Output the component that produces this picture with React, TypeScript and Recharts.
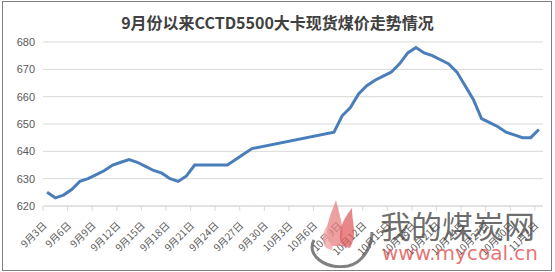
import React from 'react';
import { LineChart, Line, XAxis, YAxis, CartesianGrid } from 'recharts';

const dates = [
  '9月3日', '9月4日', '9月5日', '9月6日', '9月7日', '9月8日', '9月9日', '9月10日', '9月11日', '9月12日',
  '9月13日', '9月14日', '9月15日', '9月16日', '9月17日', '9月18日', '9月19日', '9月20日', '9月21日', '9月22日',
  '9月23日', '9月24日', '9月25日', '9月26日', '9月27日', '9月28日', '9月29日', '9月30日',
  '10月1日', '10月2日', '10月3日', '10月4日', '10月5日', '10月6日', '10月7日', '10月8日', '10月9日', '10月10日',
  '10月11日', '10月12日', '10月13日', '10月14日', '10月15日', '10月16日', '10月17日', '10月18日', '10月19日', '10月20日',
  '10月21日', '10月22日', '10月23日', '10月24日', '10月25日', '10月26日', '10月27日', '10月28日', '10月29日', '10月30日',
  '10月31日', '11月1日', '11月2日',
];

// 5500大卡现货价格（元/吨），国庆假期无报价
const prices: (number | null)[] = [
  625, 623, 624, 626, 629, 630, 631.5, 633, 635, 636,
  637, 636, 634.5, 633, 632, 630, 629, 631, 635, 635,
  635, 635, 635, 637, 639, 641, null, null,
  null, null, null, null, null, null, null, 647, 653, 656,
  661, 664, 666, 667.5, 669, 672, 676, 678, 676, 675,
  673.5, 672, 669, 664, 659, 652, 650.5, 649, 647, 646,
  645, 645, 648,
];

const yTicks = [620, 625, 630, 635, 640, 645, 650, 655, 660, 665, 670, 675, 680];

const data = dates.map((d, i) => ({ date: d, price: prices[i] }));

const W = 555;
const H = 272;
const PLOT_LEFT = 43;
const PLOT_RIGHT = 12;
const HALF_BAND = (W - PLOT_LEFT - PLOT_RIGHT) / dates.length / 2;

const DateTick = ({ x, y, payload }: any) => (
  <g>
    <line x1={x - HALF_BAND} y1={y} x2={x - HALF_BAND} y2={y + 5} stroke="#d9d9d9" />
    <text
      x={x - 3}
      y={y + 17}
      transform={`rotate(-45 ${x - 3} ${y + 17})`}
      textAnchor="end"
      dominantBaseline="central"
      fontSize={10}
      fill="#595959"
      fontFamily="'Noto Sans CJK SC', sans-serif"
    >
      {payload.value}
    </text>
  </g>
);

const Watermark = () => (
  <div style={{ position: 'absolute', left: 300, top: 196, width: 250, height: 72, pointerEvents: 'none' }}>
    <svg width={80} height={72} style={{ position: 'absolute', left: 0, top: 0 }}>
      <path d="M14 44 C 6 58, 24 74, 48 70 C 62 67, 72 52, 72 36" fill="none" stroke="#555" strokeWidth={3} opacity={0.75} />
      <path d="M32 50 C 22 36, 30 20, 36 4 C 40 22, 46 34, 40 50 Z" fill="#e88080" opacity={0.75} />
      <path d="M42 50 C 36 36, 44 22, 52 12 C 52 28, 58 38, 50 52 Z" fill="#e05f5f" opacity={0.75} />
      <path d="M26 52 C 20 44, 24 34, 28 28 C 30 38, 34 44, 32 54 Z" fill="#f0a0a0" opacity={0.75} />
    </svg>
    <div
      style={{
        position: 'absolute', left: 80, top: 12, fontSize: 31, lineHeight: '34px',
        color: 'rgba(70,70,70,0.8)', fontFamily: "'Noto Sans CJK SC', sans-serif", whiteSpace: 'nowrap',
      }}
    >
      我的煤炭网
    </div>
    <div
      style={{
        position: 'absolute', left: 82, top: 46, fontSize: 20, lineHeight: '22px',
        color: 'rgba(220,70,70,0.75)', fontFamily: "'DejaVu Sans', sans-serif", whiteSpace: 'nowrap',
      }}
    >
      www.mycoal.cn
    </div>
  </div>
);

export default function App() {
  return (
    <div style={{ position: 'relative', width: W, height: H, background: '#fff' }}>
      <style>{'body{margin:0}'}</style>
      <div
        style={{
          position: 'absolute', left: 2, top: 1, width: 550, height: 270,
          border: '1px solid #7f7f7f', boxSizing: 'border-box',
        }}
      />
      <div
        style={{
          position: 'absolute', left: 0, top: 11, width: W, textAlign: 'center',
          fontSize: 16, lineHeight: '22px', color: '#404040',
          fontFamily: "'Noto Sans CJK SC', serif", fontWeight: 700,
        }}
      >
        9月份以来CCTD5500大卡现货煤价走势情况
      </div>
      <div style={{ position: 'absolute', left: 0, top: 0 }}>
        <LineChart width={W} height={H} data={data} margin={{ top: 42, right: PLOT_RIGHT, bottom: 0, left: 0 }}>
          <CartesianGrid vertical={false} stroke="#d9d9d9" />
          <XAxis
            dataKey="date"
            interval={2}
            height={66}
            padding={{ left: HALF_BAND, right: HALF_BAND }}
            axisLine={{ stroke: '#d9d9d9' }}
            tickLine={false}
            tickSize={0}
            tickMargin={0}
            tick={<DateTick />}
          />
          <YAxis
            width={PLOT_LEFT}
            domain={[620, 680]}
            ticks={yTicks}
            axisLine={false}
            tickLine={false}
            tickSize={0}
            tickMargin={8}
            tick={{ fontSize: 11, fill: '#595959', fontFamily: "'Liberation Sans', Arial, sans-serif" }}
          />
          <Line
            type="linear"
            dataKey="price"
            stroke="#4a7ebb"
            strokeWidth={3}
            dot={false}
            connectNulls
            isAnimationActive={false}
          />
        </LineChart>
      </div>
      <Watermark />
    </div>
  );
}
